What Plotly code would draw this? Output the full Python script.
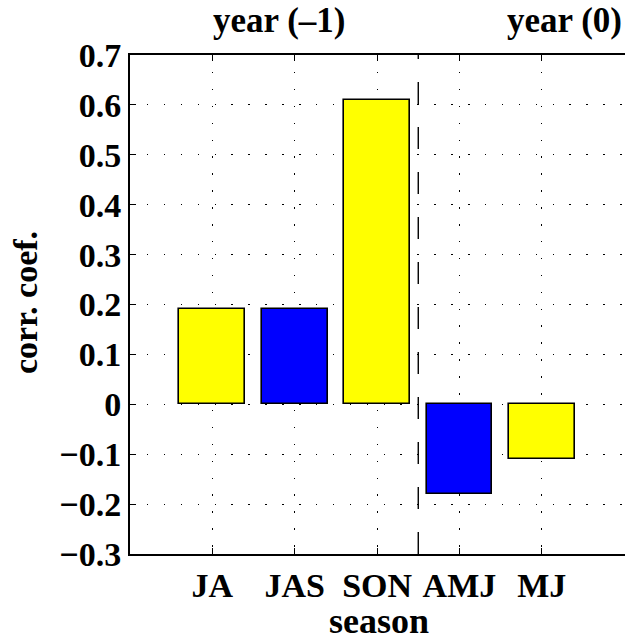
import plotly.graph_objects as go

seasons = ["JA", "JAS", "SON", "AMJ", "MJ"]
corr = [0.19, 0.19, 0.61, -0.18, -0.11]
bar_colors = ["#FFFF00", "#0000FF", "#FFFF00", "#0000FF", "#FFFF00"]
positions = [1, 2, 3, 4, 5]
y_ticks = [-0.3, -0.2, -0.1, 0, 0.1, 0.2, 0.3, 0.4, 0.5, 0.6, 0.7]
y_tick_text = ["\u22120.3", "\u22120.2", "\u22120.1", "0", "0.1", "0.2", "0.3", "0.4", "0.5", "0.6", "0.7"]
divider_x = 3.5
period_labels = ["year (\u20131)", "year (0)"]
period_x = [1.81, 5.27]

font_family = "Liberation Serif, DejaVu Serif, serif"
FS = 34
Y_MIN, Y_MAX = -0.3, 0.7

fig = go.Figure()
fig.add_trace(go.Bar(
    x=positions, y=corr, width=0.8,
    marker=dict(color=bar_colors, line=dict(color="black", width=1.6)),
    showlegend=False, hoverinfo="skip",
))

# dashed divider; top end extended slightly past the (clipped) plot top so
# the dash phase matches the reference (a full dash ends at the bottom axis)
fig.add_shape(type="line", x0=divider_x, x1=divider_x, y0=Y_MIN, y1=Y_MAX + 0.036,
              xref="x", yref="y", line=dict(color="black", width=1.4, dash="22px,23px"))

for txt, xp in zip(period_labels, period_x):
    fig.add_annotation(x=xp, y=1.07, xref="x", yref="paper", text="<b>" + txt + "</b>",
                       showarrow=False, font=dict(family=font_family, size=35, color="black"),
                       yanchor="middle", xanchor="center")

fig.add_annotation(x=0.503, y=-0.134, xref="paper", yref="paper", text="<b>season</b>",
                   showarrow=False, font=dict(family=font_family, size=36, color="black"),
                   yanchor="middle", xanchor="center")
fig.add_annotation(x=-0.212, y=0.503, xref="paper", yref="paper", text="<b>corr. coef.</b>",
                   showarrow=False, textangle=-90, font=dict(family=font_family, size=34, color="black"),
                   yanchor="middle", xanchor="center")

fig.update_xaxes(
    range=[0, 6.01], tickmode="array", tickvals=positions,
    ticktext=["<b>" + s + "</b>" for s in seasons],
    showline=True, linecolor="black", linewidth=2, mirror="ticks",
    ticks="inside", ticklen=6, tickcolor="black", tickwidth=1.2,
    showgrid=True, gridcolor="black", gridwidth=1, griddash="1.5px,15.4px",
    zeroline=False,
    tickfont=dict(family=font_family, size=FS, color="black"),
)
fig.update_yaxes(
    range=[Y_MIN, Y_MAX], tickmode="array", tickvals=y_ticks, ticktext=["<b>" + t + "</b>" for t in y_tick_text],
    showline=True, linecolor="black", linewidth=2, mirror=False,
    ticks="inside", ticklen=6, tickcolor="black", tickwidth=1.2,
    showgrid=True, gridcolor="black", gridwidth=1, griddash="1.5px,15.4px",
    zeroline=False,
    tickfont=dict(family=font_family, size=FS, color="black"),
)

fig.update_layout(
    width=625, height=642,
    margin=dict(l=130, r=0, t=55, b=88),
    plot_bgcolor="white", paper_bgcolor="white",
    bargap=0,
)

fig.write_html("out.html", config={"displayModeBar": False},
               post_script="document.body.style.margin='0';")
